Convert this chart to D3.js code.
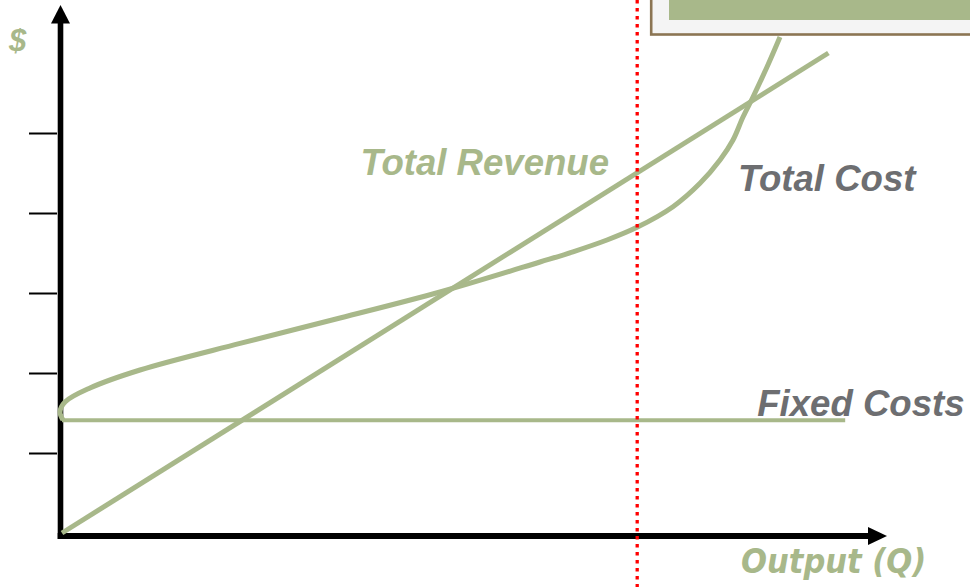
<!DOCTYPE html>
<html>
<head>
<meta charset="utf-8">
<script src="https://cdn.jsdelivr.net/npm/d3@7/dist/d3.min.js"></script>
<style>
  html, body { margin: 0; padding: 0; background: #fff; }
  svg { display: block; }
  .lbl { font-family: "Liberation Sans", Arial, sans-serif; font-weight: bold; font-style: italic; }
</style>
</head>
<body>
<svg id="chart" width="970" height="587"></svg>
<script>
// Break-even diagram: quantity of output (Q) vs. dollars
const tickValues = [1, 2, 3, 4, 5];

// Total revenue: straight line from the origin
const totalRevenue = [[0, 0], [9.58, 6.0]];

// Fixed costs: flat level across output
const fixedCostLevel = 1.41;
const fixedCostRange = [0, 9.79];

// Total cost curve (Q, $)
const totalCost = [
  [0.0125, 1.4125], [-0.025, 1.5125], [0.0375, 1.6375], [0.35, 1.8125],
  [0.975, 2.0375], [2.225, 2.37], [3.475, 2.6875], [4.725, 3.0125],
  [5.975, 3.3875], [6.3875, 3.5150], [6.8125, 3.6625], [7.1875, 3.821],
  [7.6375, 4.079], [7.975, 4.371], [8.225, 4.6625], [8.3875, 4.9125],
  [8.5125, 5.2], [8.6375, 5.45], [8.8125, 5.825], [8.975, 6.2]
];

// Quantity marked by the vertical dotted line
const markedQ = 7.19;

const labels = [
  { text: "Total Revenue", q: 3.73, v: 4.48, color: "#a8b88a" },
  { text: "Total Cost",    q: 8.45, v: 4.28, color: "#6d6e71" },
  { text: "Fixed Costs",   q: 8.69, v: 1.46, color: "#6d6e71" }
];

const green = "#a8b88a";
const svg = d3.select("#chart");

const x = d3.scaleLinear().domain([0, 10]).range([62, 862]);
const y = d3.scaleLinear().domain([0, 6.6]).range([533, 5]);

// Tick marks on the $ axis
const yAxis = d3.axisLeft(y).tickValues(tickValues).tickSize(28).tickFormat("");
const gy = svg.append("g").attr("transform", "translate(57,0)").call(yAxis);
gy.select(".domain").remove();
gy.selectAll(".tick line").attr("stroke", "#000").attr("stroke-width", 2);

// Axes with arrowheads
svg.append("line").attr("x1", 60.5).attr("x2", 60.5).attr("y1", 539).attr("y2", 20)
  .attr("stroke", "#000").attr("stroke-width", 5.6);
svg.append("path").attr("d", "M60.5,5 L51,23.5 L70,23.5 Z").attr("fill", "#000");
svg.append("line").attr("x1", 57.7).attr("x2", 872).attr("y1", 536).attr("y2", 536)
  .attr("stroke", "#000").attr("stroke-width", 6);
svg.append("path").attr("d", "M887,536 L868,527 L868,545 Z").attr("fill", "#000");

// Fixed costs
svg.append("line")
  .attr("x1", x(fixedCostRange[0])).attr("x2", x(fixedCostRange[1]))
  .attr("y1", y(fixedCostLevel)).attr("y2", y(fixedCostLevel))
  .attr("stroke", green).attr("stroke-width", 4);

// Total revenue
const line = d3.line().x(d => x(d[0])).y(d => y(d[1]));
svg.append("path").datum(totalRevenue)
  .attr("d", line).attr("fill", "none")
  .attr("stroke", green).attr("stroke-width", 5);

// Total cost
svg.append("path").datum(totalCost)
  .attr("d", line.curve(d3.curveCatmullRom.alpha(0.5)))
  .attr("fill", "none").attr("stroke", green).attr("stroke-width", 5)
  .attr("stroke-linecap", "butt");

// Vertical dotted marker
svg.append("line")
  .attr("x1", x(markedQ)).attr("x2", x(markedQ))
  .attr("y1", 0).attr("y2", 587)
  .attr("stroke", "#ff0000").attr("stroke-width", 3.3)
  .attr("stroke-dasharray", "3.4,4.6");

// Callout box at top right
svg.append("rect").attr("x", 651.2).attr("y", -10).attr("width", 340).attr("height", 44.5)
  .attr("fill", "#f4f4f4").attr("stroke", "#8b7553").attr("stroke-width", 2.6);
svg.append("rect").attr("x", 669).attr("y", -5).attr("width", 320).attr("height", 25)
  .attr("fill", green);

// Text
svg.append("text").attr("class", "lbl").attr("x", 9).attr("y", 51)
  .attr("font-size", 31).attr("fill", green).text("$");

svg.selectAll("text.curve").data(labels).enter().append("text")
  .attr("class", "lbl curve")
  .attr("x", d => x(d.q)).attr("y", d => y(d.v))
  .attr("font-size", 36.6).attr("fill", d => d.color)
  .text(d => d.text);

svg.append("text")
  .attr("x", 741).attr("y", 573)
  .attr("font-family", "'DejaVu Sans Condensed', 'DejaVu Sans', sans-serif")
  .attr("font-weight", "bold").attr("font-style", "italic")
  .attr("font-size", 34).attr("fill", green).text("Output (Q)");
</script>
</body>
</html>
